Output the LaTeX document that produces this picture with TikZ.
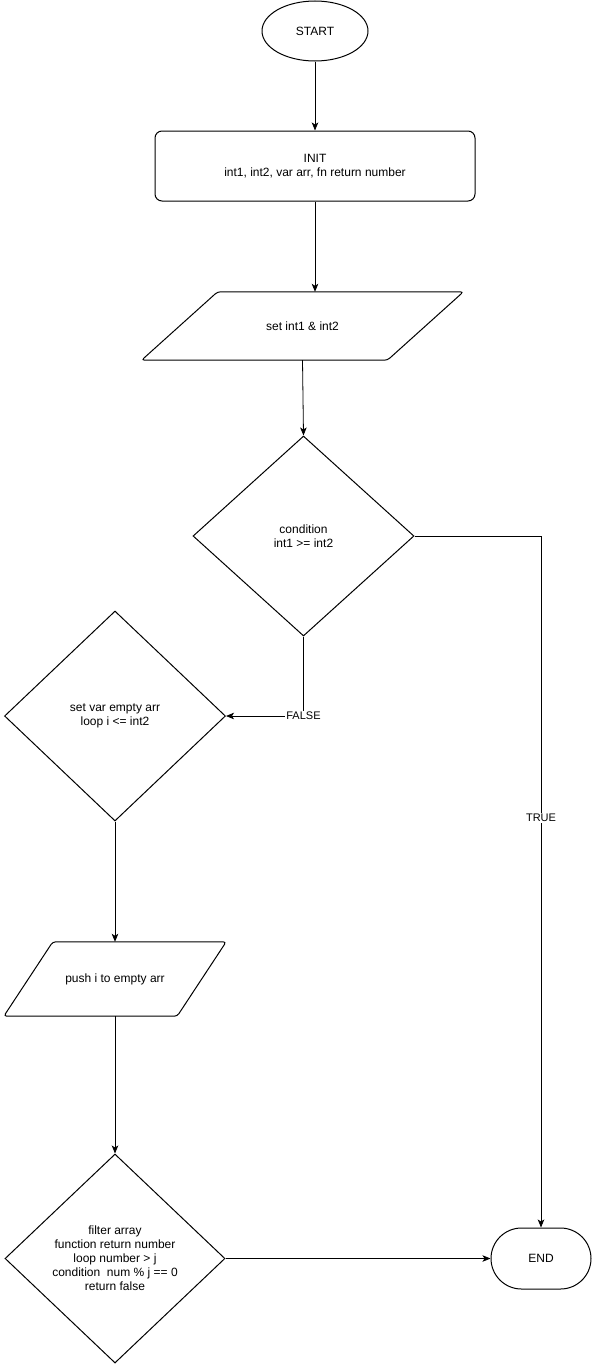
\documentclass[tikz,border=0pt]{standalone}
\usepackage{fontspec}
\setmainfont{Liberation Sans}
\usetikzlibrary{shapes.geometric,shapes.misc,arrows.meta}
% slanted input/output box round the body of a named node
\newcommand{\slantbox}[2]{%
  \draw[shape line,rounded corners=3pt]
    ([xshift=-#2]#1.south west) -- ([xshift=#2]#1.north west)
    -- ([xshift=#2]#1.north east) -- ([xshift=-#2]#1.south east) -- cycle;}
\begin{document}
\begin{tikzpicture}[x=1pt,y=-1pt,
    every node/.style={font=\fontsize{12}{14}\selectfont,align=center,inner sep=0pt},
    shape line/.style={draw,line width=1pt},
    terminal/.style={shape line,ellipse,minimum width=106,minimum height=60},
    stopbox/.style={shape line,rounded rectangle,minimum width=100,minimum height=61},
    procbox/.style={shape line,rectangle,rounded corners=7pt,minimum width=320,minimum height=70},
    iobox/.style={rectangle},
    decision/.style={shape line,diamond,aspect=1.05},
    edgelabel/.style={font=\fontsize{11}{13}\selectfont,fill=white,inner sep=1pt}]
  \useasboundingbox (0,0) rectangle (593,1365);
  \draw
    (315,31) node[terminal] (start){START}
    (315,166) node[procbox] (init){INIT\\int1, int2, var arr, fn return number}
    (302.5,326) node[iobox,minimum width=245.5,minimum height=68] (set){set int1 \& int2}
    (303.5,536) node[decision,minimum width=221,minimum height=200] (cond){condition\\int1 >= int2}
    (115,716) node[decision,minimum width=221,minimum height=210] (loop){set var empty arr\\loop i <= int2}
    (115,979) node[iobox,minimum width=173,minimum height=74] (push){push i to empty arr}
    (115,1258.5) node[decision,minimum width=220,minimum height=209] (filt){filter array\\function return number\\loop number > j\\condition\ \ num \% j == 0\\return false}
    (541,1258.5) node[stopbox] (end){END};
  \slantbox{set}{38}
  \slantbox{push}{24.5}
  \begin{scope}[-{Stealth[length=8pt,width=6.5pt,inset=2pt]},line width=0.8pt]
    \draw (start) to (init);
    \draw (init.south) to (init.south |- set.north);
    \draw (set.south) to (cond.north);
    \draw (cond.south) |- (loop.east) node[pos=0.5,edgelabel]{FALSE};
    \draw (cond.east) -| (end.north) node[pos=0.704,edgelabel]{TRUE};
    \draw (loop.south) to (push.north);
    \draw (push.south) to (filt.north);
    \draw (filt.east) to (end.west);
  \end{scope}
\end{tikzpicture}
\end{document}
